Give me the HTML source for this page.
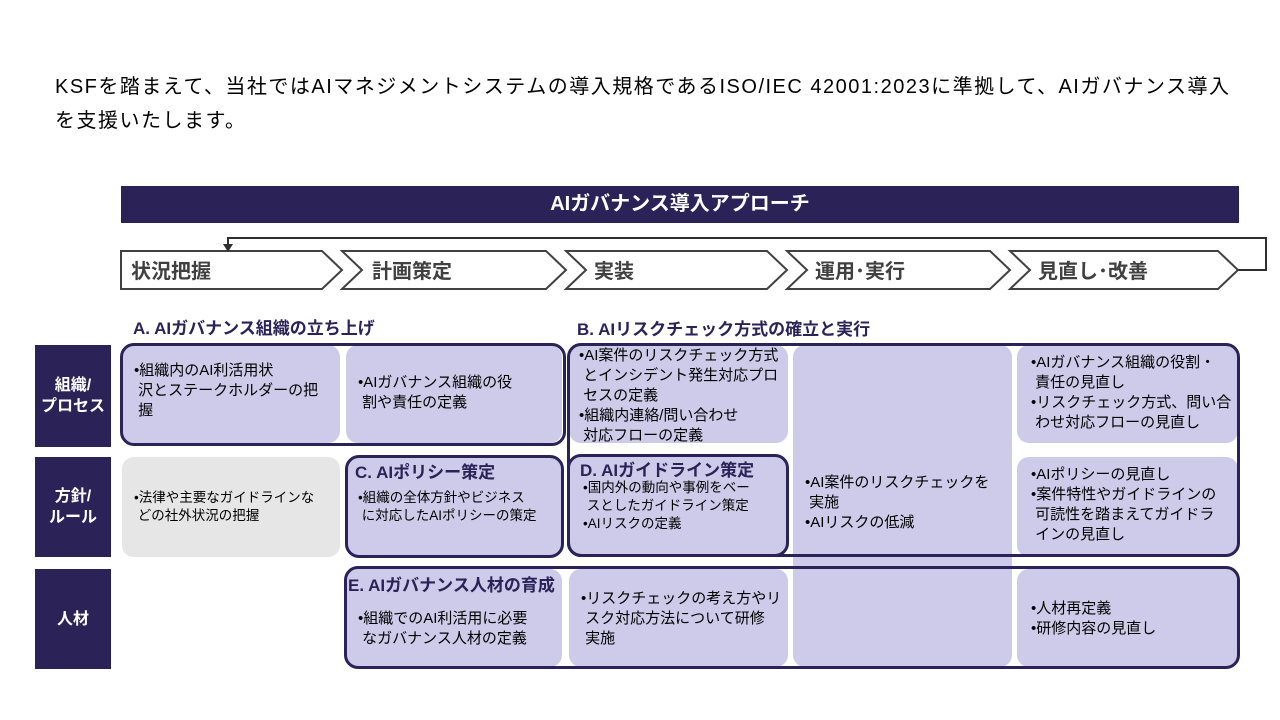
<!DOCTYPE html>
<html><head><meta charset="utf-8"><style>
body{margin:0;width:1280px;height:720px;background:#fff;position:relative;overflow:hidden;font-family:"Liberation Sans","Noto Sans CJK JP",sans-serif;color:#000}
.a{position:absolute}
.cell{position:absolute;background:#cdcbe9;border-radius:12px;font-size:15px;line-height:20px;box-sizing:border-box;white-space:nowrap}
.g{background:#e6e6e6}
.lab{position:absolute;background:#2b2257;color:#fff;font-weight:bold;font-size:16px;display:flex;align-items:center;justify-content:center;text-align:center;line-height:21px}
.ol{position:absolute;border:3px solid #2b2257;border-radius:14px;box-sizing:border-box}
.h{position:absolute;color:#2b2257;font-weight:bold;font-size:17px}
.s{font-size:13.5px;line-height:18px}
</style></head><body>
<div class="a" style="left:55px;top:70px;font-size:20px;line-height:34px;white-space:nowrap;letter-spacing:1.5px">KSFを踏まえて、当社ではAIマネジメントシステムの導入規格であるISO/IEC 42001:2023に準拠して、AIガバナンス導入<br>を支援いたします。</div>
<div class="a" style="left:121px;top:186px;width:1118px;height:37px;background:#2b2257;color:#fff;font-weight:bold;font-size:20px;line-height:37px;text-align:center">AIガバナンス導入アプローチ</div>
<svg class="a" style="left:0;top:0" width="1280" height="720">
<g fill="#fff" stroke="#404040" stroke-width="2">
<polygon points="121,251 322,251 342,270 322,289 121,289"/>
<polygon points="342,251 546,251 566,270 546,289 342,289 362,270"/>
<polygon points="566,251 767,251 787,270 767,289 566,289 586,270"/>
<polygon points="787,251 990,251 1010,270 990,289 787,289 807,270"/>
<polygon points="1010,251 1218,251 1238,270 1218,289 1010,289 1030,270"/>
</g>
<polyline points="1238,270 1266,270 1266,238 228,238 228,246" fill="none" stroke="#303030" stroke-width="2"/>
<polygon points="223,244 233,244 228,252" fill="#303030"/>
<g font-size="20" font-weight="bold" fill="#404040" font-family="Liberation Sans,Noto Sans CJK JP,sans-serif">
<text x="131" y="278">状況把握</text><text x="372" y="278">計画策定</text><text x="594" y="278">実装</text><text x="815" y="278">運用･実行</text><text x="1038" y="278">見直し･改善</text>
</g>
</svg>
<div class="h" style="left:133px;top:314px">A. AIガバナンス組織の立ち上げ</div>
<div class="h" style="left:577px;top:315px">B. AIリスクチェック方式の確立と実行</div>
<div class="lab" style="left:35px;top:345px;width:76px;height:102px">組織/<br>プロセス</div>
<div class="lab" style="left:35px;top:457px;width:76px;height:100px">方針/<br>ルール</div>
<div class="lab" style="left:35px;top:569px;width:76px;height:100px">人材</div>

<div class="cell" style="left:122px;top:345px;width:218px;height:98px;padding:16px 6px 0 12px">•組織内のAI利活用状<br>&nbsp;沢とステークホルダーの把<br>&nbsp;握</div>
<div class="cell" style="left:346px;top:345px;width:216px;height:98px;padding:28px 6px 0 12px">•AIガバナンス組織の役<br>&nbsp;割や責任の定義</div>
<div class="cell" style="left:569px;top:345px;width:219px;height:98px;padding:1px 4px 0 10px">•AI案件のリスクチェック方式<br>&nbsp;とインシデント発生対応プロ<br>&nbsp;セスの定義<br>•組織内連絡/問い合わせ<br>&nbsp;対応フローの定義</div>
<div class="cell" style="left:793px;top:345px;width:219px;height:322px;padding:128px 6px 0 12px">•AI案件のリスクチェックを<br>&nbsp;実施<br>•AIリスクの低減</div>
<div class="cell" style="left:1017px;top:345px;width:221px;height:98px;padding:8px 6px 0 14px">•AIガバナンス組織の役割・<br>&nbsp;責任の見直し<br>•リスクチェック方式、問い合<br>&nbsp;わせ対応フローの見直し</div>

<div class="cell g s" style="left:122px;top:457px;width:218px;height:100px;padding:32px 6px 0 12px">•法律や主要なガイドラインな<br>&nbsp;どの社外状況の把握</div>
<div class="cell s" style="left:346px;top:457px;width:216px;height:100px;padding:32px 6px 0 12px">•組織の全体方針やビジネス<br>&nbsp;に対応したAIポリシーの策定</div>
<div class="cell s" style="left:569px;top:457px;width:219px;height:100px;padding:22px 6px 0 14px">•国内外の動向や事例をベー<br>&nbsp;スとしたガイドライン策定<br>•AIリスクの定義</div>
<div class="cell" style="left:1017px;top:457px;width:221px;height:100px;padding:8px 6px 0 14px">•AIポリシーの見直し<br>•案件特性やガイドラインの<br>&nbsp;可読性を踏まえてガイドラ<br>&nbsp;インの見直し</div>

<div class="cell" style="left:346px;top:569px;width:216px;height:98px;padding:40px 6px 0 12px">•組織でのAI利活用に必要<br>&nbsp;なガバナンス人材の定義</div>
<div class="cell" style="left:569px;top:569px;width:219px;height:98px;padding:20px 6px 0 12px">•リスクチェックの考え方やリ<br>&nbsp;スク対応方法について研修<br>&nbsp;実施</div>
<div class="cell" style="left:1017px;top:569px;width:221px;height:98px;padding:30px 6px 0 14px">•人材再定義<br>•研修内容の見直し</div>

<div class="ol" style="left:120px;top:343px;width:446px;height:103px"></div>
<div class="ol" style="left:567px;top:343px;width:673px;height:214px"></div>
<div class="ol" style="left:345px;top:455px;width:219px;height:103px"></div>
<div class="ol" style="left:567px;top:454px;width:222px;height:103px"></div>
<div class="ol" style="left:344px;top:566px;width:896px;height:103px"></div>
<div class="h" style="left:355px;top:458px">C. AIポリシー策定</div>
<div class="h" style="left:580px;top:456px">D. AIガイドライン策定</div>
<div class="h" style="left:348px;top:571px">E. AIガバナンス人材の育成</div>
</body></html>
